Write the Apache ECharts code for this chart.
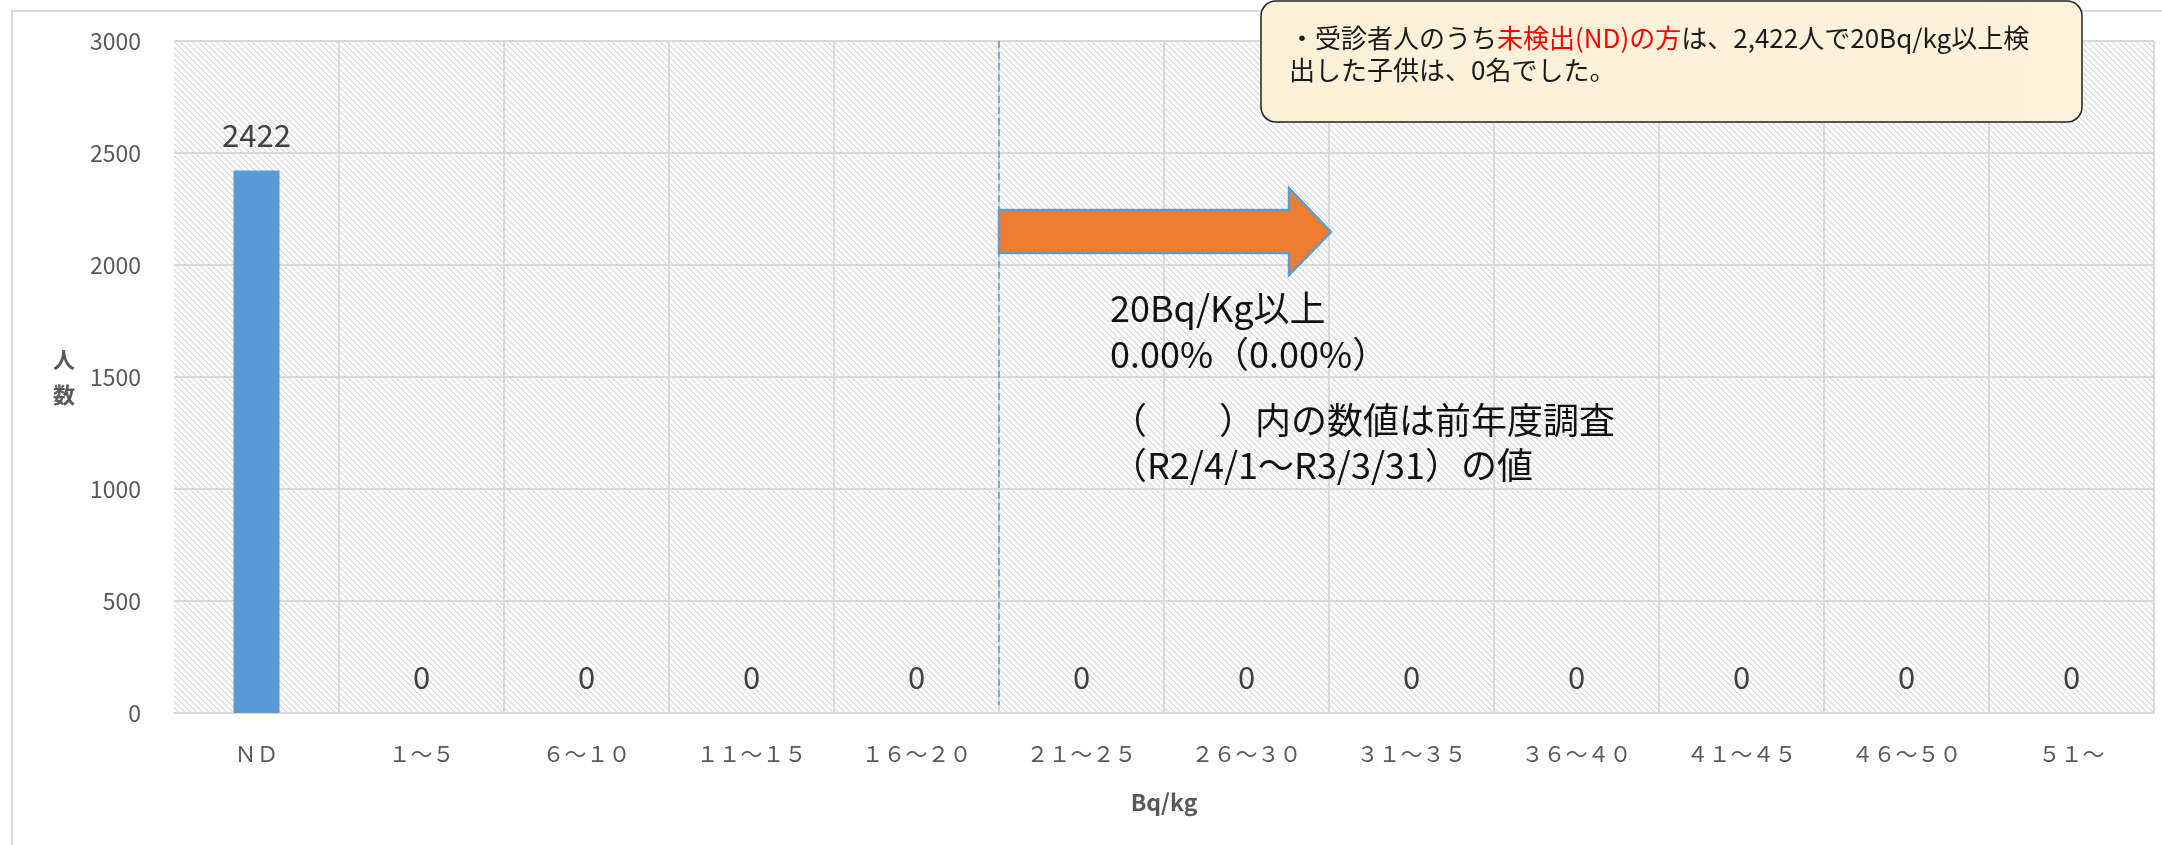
<!DOCTYPE html>
<html>
<head>
<meta charset="utf-8">
<style>
  html, body { margin: 0; padding: 0; background: #fff; }
  #chart { width: 2162px; height: 845px; }
</style>
<script src="https://cdn.jsdelivr.net/npm/echarts@6/dist/echarts.min.js"></script>
</head>
<body>
<div id="chart"></div>
<script>
// 線量区分ごとの人数
const categories = ["ＮＤ", "１～５", "６～１０", "１１～１５", "１６～２０", "２１～２５",
  "２６～３０", "３１～３５", "３６～４０", "４１～４５", "４６～５０", "５１～"];
const counts = [2422, 0, 0, 0, 0, 0, 0, 0, 0, 0, 0, 0];
const yMin = 0;
const yMax = 3000;
const yStep = 500;

const FONT = "Noto Sans CJK JP";

// 斜線の背景パターン
function makeHatch() {
  const size = 6;
  const c = document.createElement("canvas");
  c.width = size;
  c.height = size;
  const ctx = c.getContext("2d");
  ctx.fillStyle = "#ffffff";
  ctx.fillRect(0, 0, size, size);
  ctx.fillStyle = "#e0e0e0";
  for (let x = 0; x < size; x++) {
    for (let y = 0; y < size; y++) {
      if ((((x - y) % size) + size) % size < 2) ctx.fillRect(x, y, 1, 1);
    }
  }
  return c;
}

const chart = echarts.init(document.getElementById("chart"));

const option = {
  animation: false,
  textStyle: { fontFamily: FONT },
  grid: {
    left: 174,
    right: 8,
    top: 41,
    bottom: 132,
    show: true,
    borderWidth: 0,
    backgroundColor: { image: makeHatch(), repeat: "repeat" }
  },
  xAxis: {
    type: "category",
    data: categories,
    name: "Bq/kg",
    nameLocation: "middle",
    nameGap: 78,
    nameTextStyle: { fontSize: 23, fontWeight: "bold", color: "#595959", fontFamily: FONT },
    axisTick: { show: false },
    axisLine: { lineStyle: { color: "#d9d9d9", width: 2 } },
    axisLabel: { color: "#595959", fontSize: 22, margin: 30, fontFamily: FONT },
    splitLine: { show: true, showMinLine: false, lineStyle: { color: "#d9d9d9", width: 2 } }
  },
  yAxis: {
    type: "value",
    min: yMin,
    max: yMax,
    interval: yStep,
    name: "人\n数",
    nameLocation: "middle",
    nameRotate: 0,
    nameGap: 99,
    nameTextStyle: { fontSize: 22, fontWeight: "bold", color: "#595959", lineHeight: 35, fontFamily: FONT },
    axisLine: { show: false },
    axisTick: { show: false },
    axisLabel: {
      color: "#595959",
      fontSize: 23,
      margin: 33,
      fontFamily: FONT,
      formatter: v => String(v)
    },
    splitLine: { lineStyle: { color: "#d9d9d9", width: 2 } }
  },
  series: [
    {
      type: "bar",
      data: counts,
      barWidth: 46,
      itemStyle: { color: "#5B9BD5" },
      label: {
        show: true,
        position: "top",
        distance: 20,
        fontSize: 31,
        color: "#404040",
        fontFamily: FONT
      }
    }
  ],
  graphic: []
};

chart.setOption(option);

// 16～20 と 21～25 の境目に破線
const xa = chart.convertToPixel({ xAxisIndex: 0 }, categories[4]);
const xb = chart.convertToPixel({ xAxisIndex: 0 }, categories[5]);
const xBoundary = Math.round((xa + xb) / 2);
const yTop = chart.convertToPixel({ yAxisIndex: 0 }, yMax);
const yBottom = chart.convertToPixel({ yAxisIndex: 0 }, yMin);

chart.setOption({
  graphic: [
    {
      type: "rect",
      z: -10,
      silent: true,
      shape: { x: 12, y: 11, width: 2300, height: 1000 },
      style: { fill: "none", stroke: "#d9d9d9", lineWidth: 2 }
    },
    {
      type: "line",
      z: 50,
      shape: { x1: xBoundary, y1: yTop, x2: xBoundary, y2: yBottom - 8 },
      style: { stroke: "#5B9BD5", lineWidth: 1.5, lineDash: [7, 4] }
    },
    {
      type: "polygon",
      z: 60,
      shape: {
        points: [
          [xBoundary, 210], [1289, 210], [1289, 188], [1331, 232],
          [1289, 275], [1289, 253], [xBoundary, 253]
        ]
      },
      style: { fill: "#ED7D31", stroke: "#5B9BD5", lineWidth: 2.5 }
    },
    {
      type: "text",
      z: 60,
      x: 1110,
      y: 285,
      style: {
        text: "20Bq/Kg以上\n0.00%（0.00%）",
        font: "36px " + FONT,
        lineHeight: 46,
        fill: "#111"
      }
    },
    {
      type: "text",
      z: 60,
      x: 1111,
      y: 398,
      style: {
        text: "（　　）内の数値は前年度調査\n（R2/4/1～R3/3/31）の値",
        font: "36px " + FONT,
        lineHeight: 45,
        fill: "#111"
      }
    },
    {
      type: "rect",
      z: 70,
      shape: { x: 1261, y: 1, width: 821, height: 121, r: 15 },
      style: {
        fill: {
          type: "linear", x: 0, y: 0, x2: 1, y2: 1,
          colorStops: [
            { offset: 0, color: "#fbf1d9" },
            { offset: 1, color: "#fdf3dc" }
          ]
        },
        stroke: "#222",
        lineWidth: 1.5
      }
    },
    {
      type: "text",
      z: 71,
      x: 1289,
      y: 22,
      style: {
        text: "・受診者人のうち{r|未検出(ND)の方}は、2,422人で20Bq/kg以上検\n出した子供は、0名でした。",
        font: "26px " + FONT,
        lineHeight: 32,
        fill: "#1a1a1a",
        rich: {
          r: { fill: "#ff0000", font: "26px " + FONT }
        }
      }
    }
  ]
});
</script>
</body>
</html>
